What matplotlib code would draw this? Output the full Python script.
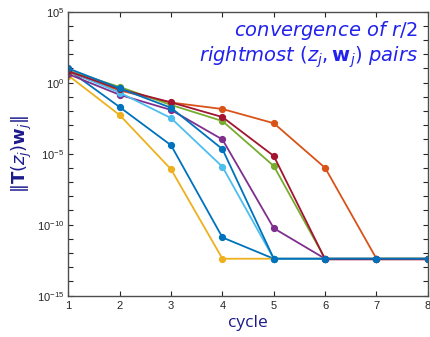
import math
import matplotlib
matplotlib.use("Agg")
import matplotlib.pyplot as plt
import matplotlib.ticker as mticker

plt.rcParams["font.family"] = ["Liberation Sans", "DejaVu Sans"]
plt.rcParams["mathtext.fontset"] = "dejavusans"

cycles = [1, 2, 3, 4, 5, 6, 7, 8]

# residual norms, one list per eigenpair
res_blue_a = [8.0, 1.9e-2, 3.9e-5, 1.26e-11, 4e-13, 4e-13, 4e-13, 4e-13]
res_orange = [5.6, 2.8e-1, 4.0e-2, 1.4e-2, 1.4e-3, 1.0e-6, 4e-13, 4e-13]
res_yellow = [3.2, 5.2e-3, 7.9e-7, 4e-13, 4e-13, 4e-13, 4e-13, 4e-13]
res_purple = [4.0, 1.4e-1, 1.2e-2, 1.0e-4, 5.6e-11, 4e-13, 4e-13, 4e-13]
res_green = [7.1, 5.0e-1, 2.7e-2, 2.0e-3, 1.35e-6, 4e-13, 4e-13, 4e-13]
res_lightblue = [6.3, 2.0e-1, 3.2e-3, 1.2e-6, 4e-13, 4e-13, 4e-13, 4e-13]
res_darkred = [6.3, 3.5e-1, 4.1e-2, 3.8e-3, 6.9e-6, 3.6e-13, 3.6e-13, 3.6e-13]
res_blue_b = [10.0, 4.0e-1, 1.7e-2, 2.1e-5, 4e-13, 4e-13, 4e-13, 4e-13]

series = [res_blue_a, res_orange, res_yellow, res_purple,
          res_green, res_lightblue, res_darkred, res_blue_b]
colors = ['#0072BD', '#D95319', '#EDB120', '#7E2F8E',
          '#77AC30', '#4DBEEE', '#A2142F', '#0072BD']

fig = plt.figure(figsize=(4.30, 3.37), dpi=100)
ax = fig.add_axes([0.159, 0.1226, 0.836, 0.8427])

for vals, c in zip(series, colors):
    ax.semilogy(cycles, vals, color=c, lw=1.3, marker='o', ms=4.2,
                markerfacecolor=c, markeredgecolor=c)

ax.set_xlim(1, 8)
ax.set_ylim(1e-15, 1e5)
ax.set_xticks(cycles)
ax.yaxis.set_major_locator(mticker.FixedLocator([1e-15, 1e-10, 1e-5, 1e0, 1e5]))
ax.yaxis.set_minor_locator(mticker.FixedLocator([10.0**k for k in range(-15, 6)]))
ax.yaxis.set_minor_formatter(mticker.NullFormatter())
ax.yaxis.set_major_formatter(mticker.FuncFormatter(
    lambda v, p: r'$\mathdefault{10^{%d}}$' % round(math.log10(v))))

gray = '#4d4d4d'
for s in ax.spines.values():
    s.set_color(gray)
    s.set_linewidth(1.0)
ax.tick_params(which='both', direction='in', top=True, right=True,
               colors='#262626', labelsize=8, length=3.5, width=0.8)
ax.tick_params(axis='y', which='major', pad=3)

ax.set_xlabel('cycle', color='#1a1a8c', fontsize=12.5, labelpad=3,
              family=['Open Sans', 'DejaVu Sans'])
ax.set_ylabel(r'$\|\mathbf{T}(z_j)\mathbf{w}_j\|$', color='#1a1a8c', fontsize=13,
              labelpad=2)

ax.text(0.972, 0.975, r'convergence of $r/2$', transform=ax.transAxes,
        ha='right', va='top', color='#2222ee', fontsize=14, style='italic',
        family='DejaVu Sans')
ax.text(0.972, 0.885, r'rightmost $(z_j, \mathbf{w}_j)$ pairs', transform=ax.transAxes,
        ha='right', va='top', color='#2222ee', fontsize=14, style='italic',
        family='DejaVu Sans')

fig.savefig('out.png', dpi=100)
